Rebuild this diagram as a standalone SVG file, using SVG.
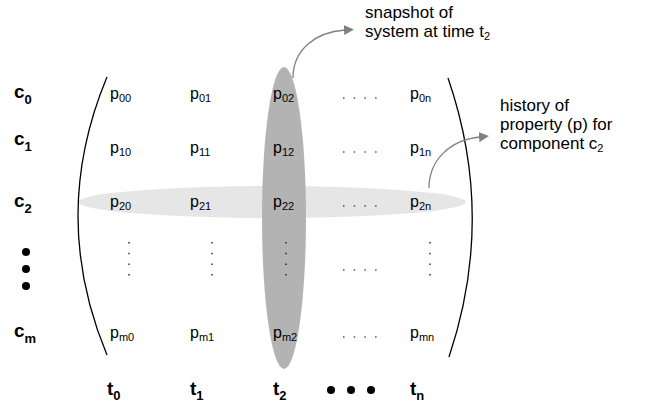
<svg xmlns="http://www.w3.org/2000/svg" width="650" height="414" viewBox="0 0 650 414">
<defs>
<style>
.p{font-family:"Liberation Sans",Arial,sans-serif;font-size:16px;fill:#000}
.s{font-size:11px}
.c{font-family:"Liberation Sans",Arial,sans-serif;font-size:19px;font-weight:bold;fill:#000}
.cs{font-size:13px}
.lbl{font-family:"Liberation Sans",Arial,sans-serif;font-size:17px;fill:#000}
.ls{font-size:11px}
.vd{stroke:#000;stroke-width:1.2;stroke-dasharray:1.5 9.2}
.hd{stroke:#000;stroke-width:1.2;stroke-dasharray:1.5 9.2}
.paren{fill:none;stroke:#000;stroke-width:1.3}
.arr{fill:none;stroke:#808080;stroke-width:1.3}
</style>
<marker id="ah" viewBox="0 0 10 10" refX="1" refY="5" markerWidth="10" markerHeight="10" markerUnits="userSpaceOnUse" orient="auto">
<path d="M0,0 L10,5 L0,10 Z" fill="#808080"/>
</marker>
</defs>
<rect width="650" height="414" fill="#fff"/>
<g id="row-highlight"><ellipse cx="272" cy="202" rx="194" ry="16" fill="#e6e6e6"/></g>
<g id="column-highlight"><ellipse cx="284" cy="218" rx="22" ry="151" fill="#b3b3b3"/></g>
<g id="brackets">
<path class="paren" d="M107,77 Q49,216 107,355"/>
<path class="paren" d="M448,78 Q496,217 449,357"/>
</g>
<g id="row-labels">
<text class="c" x="14" y="98">c<tspan class="cs" dy="6">0</tspan></text>
<text class="c" x="14" y="145">c<tspan class="cs" dy="6">1</tspan></text>
<text class="c" x="14" y="207">c<tspan class="cs" dy="6">2</tspan></text>
<circle cx="26" cy="252" r="4"/>
<circle cx="26" cy="269" r="4"/>
<circle cx="26" cy="286" r="4"/>
<text class="c" x="14" y="337">c<tspan class="cs" dy="6">m</tspan></text>
</g>
<g id="matrix">
<text class="p" x="110" y="99">p<tspan class="s" dy="3">00</tspan></text>
<text class="p" x="190" y="99">p<tspan class="s" dy="3">01</tspan></text>
<text class="p" x="273" y="99">p<tspan class="s" dy="3">02</tspan></text>
<text class="p" x="410" y="99">p<tspan class="s" dy="3">0n</tspan></text>
<line class="hd" x1="343" y1="98" x2="377" y2="98"/>
<text class="p" x="110" y="153">p<tspan class="s" dy="3">10</tspan></text>
<text class="p" x="190" y="153">p<tspan class="s" dy="3">11</tspan></text>
<text class="p" x="273" y="153">p<tspan class="s" dy="3">12</tspan></text>
<text class="p" x="410" y="153">p<tspan class="s" dy="3">1n</tspan></text>
<line class="hd" x1="343" y1="152" x2="377" y2="152"/>
<text class="p" x="110" y="207">p<tspan class="s" dy="3">20</tspan></text>
<text class="p" x="190" y="207">p<tspan class="s" dy="3">21</tspan></text>
<text class="p" x="273" y="207">p<tspan class="s" dy="3">22</tspan></text>
<text class="p" x="410" y="207">p<tspan class="s" dy="3">2n</tspan></text>
<line class="hd" x1="343" y1="206" x2="377" y2="206"/>
<line class="vd" x1="129" y1="242" x2="129" y2="276"/>
<line class="vd" x1="212" y1="242" x2="212" y2="276"/>
<line class="vd" x1="286" y1="242" x2="286" y2="276"/>
<line class="vd" x1="430" y1="242" x2="430" y2="276"/>
<line class="hd" x1="343" y1="270" x2="377" y2="270"/>
<text class="p" x="110" y="338">p<tspan class="s" dy="3">m0</tspan></text>
<text class="p" x="190" y="338">p<tspan class="s" dy="3">m1</tspan></text>
<text class="p" x="273" y="338">p<tspan class="s" dy="3">m2</tspan></text>
<text class="p" x="410" y="338">p<tspan class="s" dy="3">mn</tspan></text>
<line class="hd" x1="343" y1="337" x2="377" y2="337"/>
</g>
<g id="column-labels">
<text class="c" x="107" y="395">t<tspan class="cs" dy="5">0</tspan></text>
<text class="c" x="190" y="395">t<tspan class="cs" dy="5">1</tspan></text>
<text class="c" x="273" y="395">t<tspan class="cs" dy="5">2</tspan></text>
<circle cx="331" cy="390" r="4"/>
<circle cx="351" cy="390" r="4"/>
<circle cx="371" cy="390" r="4"/>
<text class="c" x="410" y="395">t<tspan class="cs" dy="5">n</tspan></text>
</g>
<g id="connectors">
<path class="arr" d="M293,78 C293,50 315,32 345,30" marker-end="url(#ah)"/>
<path class="arr" d="M429,188 C429,160 450,140 480,137" marker-end="url(#ah)"/>
</g>
<g id="snapshot-label">
<text class="lbl" x="365" y="18">snapshot of</text>
<text class="lbl" x="365" y="37">system at time  t<tspan class="ls" dy="3">2</tspan></text>
</g>
<g id="history-label">
<text class="lbl" x="500" y="111">history of</text>
<text class="lbl" x="500" y="130">property (p) for</text>
<text class="lbl" x="500" y="149">component c<tspan class="ls" dy="3">2</tspan></text>
</g>
</svg>
